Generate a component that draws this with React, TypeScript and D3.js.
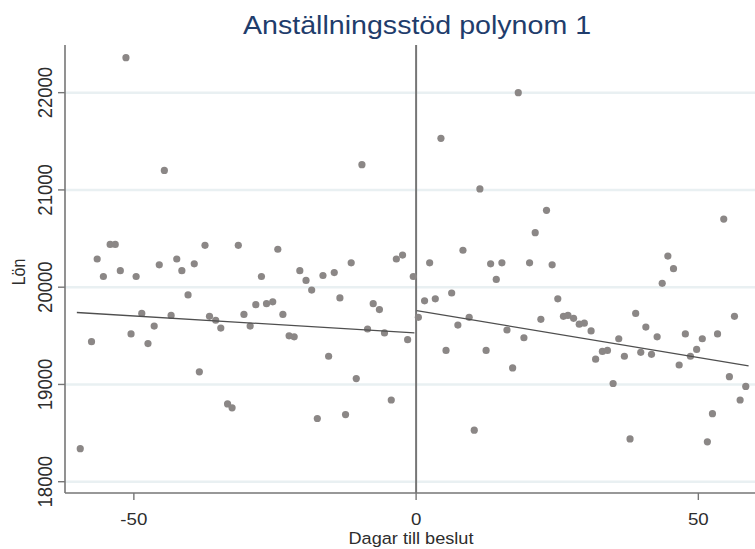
import React from "react";
import * as d3 from "d3";

// Anställningsstöd polynom 1 – lön mot dagar till beslut, linjär anpassning på vardera sidan

const titleText = "Anställningsstöd polynom 1";
const xTitle = "Dagar till beslut";
const yTitle = "Lön";

const xTicks = [-50, 0, 50];
const yTicks = [18000, 19000, 20000, 21000, 22000];

// före beslut
const leftDays = [
  -59.5, -57.5, -56.5, -55.4, -54.2, -53.3, -52.4, -51.4, -50.5, -49.6, -48.6, -47.5, -46.4, -45.5, -44.6,
  -43.4, -42.4, -41.5, -40.4, -39.3, -38.4, -37.4, -36.6, -35.5, -34.6, -33.4, -32.6, -31.5, -30.5, -29.4,
  -28.4, -27.4, -26.5, -25.4, -24.5, -23.6, -22.5, -21.6, -20.6, -19.5, -18.5, -17.5, -16.5, -15.5, -14.5,
  -13.5, -12.5, -11.5, -10.6, -9.6, -8.6, -7.6, -6.5, -5.6, -4.4, -3.5, -2.4, -1.5, -0.5,
];
const leftWage = [
  18340, 19440, 20290, 20110, 20440, 20440, 20170, 22360, 19520, 20110, 19730, 19420, 19600, 20230, 21200,
  19710, 20290, 20170, 19920, 20240, 19130, 20430, 19700, 19660, 19580, 18800, 18760, 20430, 19720, 19600,
  19820, 20110, 19830, 19850, 20390, 19720, 19500, 19490, 20170, 20070, 19970, 18650, 20120, 19290, 20150,
  19890, 18690, 20250, 19060, 21260, 19570, 19830, 19770, 19530, 18840, 20290, 20330, 19460, 20110,
];

// efter beslut
const rightDays = [
  0.4, 1.5, 2.4, 3.4, 4.4, 5.3, 6.3, 7.4, 8.3, 9.4, 10.3, 11.3, 12.4, 13.2, 14.2, 15.2, 16.1, 17.1, 18.1,
  19.1, 20.1, 21.1, 22.1, 23.1, 24.1, 25.1, 26.1, 26.9, 27.9, 28.9, 29.8, 31.0, 31.8, 33.0, 33.9, 34.9,
  35.9, 36.9, 37.9, 38.9, 39.8, 40.7, 41.7, 42.7, 43.6, 44.6, 45.6, 46.6, 47.7, 48.6, 49.7, 50.7, 51.6,
  52.5, 53.4, 54.5, 55.5, 56.4, 57.4, 58.4,
];
const rightWage = [
  19690, 19860, 20250, 19880, 21530, 19350, 19940, 19610, 20380, 19690, 18530, 21010, 19350, 20240, 20080,
  20250, 19560, 19170, 22000, 19480, 20250, 20560, 19670, 20790, 20230, 19880, 19700, 19710, 19680, 19620,
  19630, 19550, 19260, 19340, 19350, 19010, 19470, 19290, 18440, 19730, 19330, 19590, 19310, 19490, 20040,
  20320, 20190, 19200, 19520, 19290, 19360, 19470, 18410, 18700, 19520, 20700, 19080, 19700, 18840, 18980,
];

// anpassade linjer (ändpunkter)
const leftFitDays = [-60.1, -0.3];
const leftFitWage = [19740, 19530];
const rightFitDays = [0.1, 58.9];
const rightFitWage = [19760, 19190];

const W = 755;
const H = 549;
const FONT = "'Liberation Sans', Arial, Helvetica, sans-serif";
const STRETCH = 1.1; // texten i originalet är lite utdragen på bredden

export default function App() {
  const plot = { left: 65, right: 761, top: 45, bottom: 493 };

  const x = d3.scaleLinear().domain([-62.2, 61.1]).range([plot.left, plot.right]);
  const y = d3.scaleLinear().domain([17884, 22490]).range([plot.bottom, plot.top]);

  const line = d3
    .line<[number, number]>()
    .x((d) => x(d[0]))
    .y((d) => y(d[1]));

  const leftPts = leftDays.map((d, i) => [d, leftWage[i]] as [number, number]);
  const rightPts = rightDays.map((d, i) => [d, rightWage[i]] as [number, number]);
  const leftFit = leftFitDays.map((d, i) => [d, leftFitWage[i]] as [number, number]);
  const rightFit = rightFitDays.map((d, i) => [d, rightFitWage[i]] as [number, number]);

  const axisColor = "#767676";
  const textColor = "#2d2d2d";

  return (
    <svg
      width={W}
      height={H}
      style={{ position: "absolute", left: 0, top: 0, background: "#fff" }}
      fontFamily={FONT}
    >
      <rect width={W} height={H} fill="#fff" />

      {/* gridlines */}
      <g>
        {yTicks.map((t) => (
          <line
            key={t}
            x1={plot.left}
            x2={plot.right}
            y1={y(t)}
            y2={y(t)}
            stroke="#e9f0f2"
            strokeWidth={2.5}
          />
        ))}
      </g>

      {/* title */}
      <text
        transform={`translate(${417},${34}) scale(${STRETCH},1)`}
        textAnchor="middle"
        fontSize={26}
        fill="#1f3d6c"
      >
        {titleText}
      </text>

      {/* y axis */}
      <line x1={plot.left} x2={plot.left} y1={plot.top} y2={plot.bottom} stroke={axisColor} strokeWidth={1.6} />
      {yTicks.map((t) => (
        <g key={t}>
          <line x1={plot.left - 7} x2={plot.left} y1={y(t)} y2={y(t)} stroke={axisColor} strokeWidth={1.4} />
          <text
            transform={`translate(${52},${y(t)}) scale(${STRETCH},1) rotate(-90)`}
            textAnchor="middle"
            fontSize={18.5}
            fill={textColor}
          >
            {t}
          </text>
        </g>
      ))}
      <text
        transform={`translate(${25},${272}) scale(${STRETCH},1) rotate(-90)`}
        textAnchor="middle"
        fontSize={16}
        fill={textColor}
      >
        {yTitle}
      </text>

      {/* x axis */}
      <line x1={plot.left} x2={plot.right} y1={plot.bottom} y2={plot.bottom} stroke={axisColor} strokeWidth={1.6} />
      {xTicks.map((t) => (
        <g key={t}>
          <line x1={x(t)} x2={x(t)} y1={plot.bottom} y2={plot.bottom + 7} stroke={axisColor} strokeWidth={1.4} />
          <text
            transform={`translate(${x(t)},${525}) scale(${STRETCH},1)`}
            textAnchor="middle"
            fontSize={17}
            fill={textColor}
          >
            {t}
          </text>
        </g>
      ))}
      <text
        transform={`translate(${411},${544}) scale(${STRETCH},1)`}
        textAnchor="middle"
        fontSize={16.5}
        fill={textColor}
      >
        {xTitle}
      </text>

      {/* cutoff at 0 */}
      <line x1={x(0)} x2={x(0)} y1={plot.top} y2={plot.bottom} stroke={axisColor} strokeWidth={2} />

      {/* scatter */}
      <g fill="#8b8786">
        {leftPts.map((d, i) => (
          <circle key={"l" + i} cx={x(d[0])} cy={y(d[1])} r={3.6} />
        ))}
        {rightPts.map((d, i) => (
          <circle key={"r" + i} cx={x(d[0])} cy={y(d[1])} r={3.6} />
        ))}
      </g>

      {/* linear fits */}
      <path d={line(leftFit) ?? ""} fill="none" stroke="#4f4f4f" strokeWidth={1.3} />
      <path d={line(rightFit) ?? ""} fill="none" stroke="#4f4f4f" strokeWidth={1.3} />
    </svg>
  );
}
